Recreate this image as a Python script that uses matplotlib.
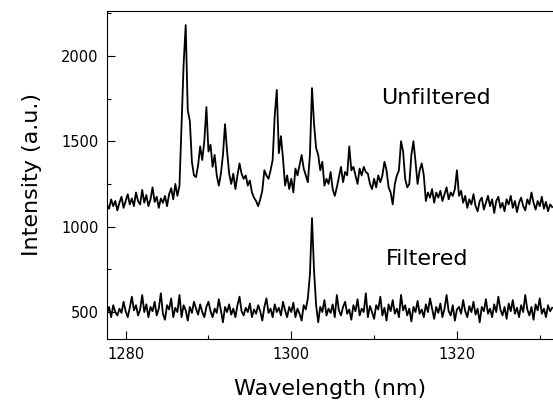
import matplotlib
matplotlib.use('Agg')
import matplotlib.pyplot as plt
import numpy as np
from matplotlib.ticker import MultipleLocator

# spectrum sampled every 0.25 nm starting at 1277.75 nm
start_nm = 1277.75
step_nm = 0.25

unfiltered = [
    1130, 1105, 1160, 1120, 1150, 1095, 1140, 1175, 1110, 1150,
    1190, 1130, 1165, 1120, 1200, 1150, 1130, 1215, 1140, 1185,
    1120, 1160, 1230, 1145, 1175, 1110, 1165, 1140, 1180, 1120,
    1190, 1225, 1160, 1250, 1180, 1240,
    1600, 1950, 2180, 1680,
    1620, 1380, 1300, 1290, 1360, 1470, 1390, 1500, 1700, 1440,
    1480, 1350, 1420, 1300, 1240, 1310, 1420, 1600, 1440, 1310,
    1250, 1310, 1220, 1300, 1370, 1310, 1280, 1300, 1240, 1270,
    1200, 1170, 1150, 1120, 1160, 1210, 1330, 1300, 1280, 1330,
    1390, 1650, 1800, 1430, 1530, 1400, 1240, 1300, 1220, 1280,
    1200, 1340, 1300, 1360, 1420, 1340, 1300, 1260, 1420, 1811,
    1600, 1460, 1420, 1330, 1380, 1240, 1280, 1250, 1320, 1220,
    1180, 1230, 1290, 1350, 1260, 1320, 1300, 1470, 1330, 1350,
    1300, 1250, 1340, 1300, 1350, 1320, 1310, 1250, 1220, 1280,
    1230, 1300, 1260, 1300, 1380, 1330, 1230, 1200, 1130, 1250,
    1300, 1330, 1500, 1440, 1280, 1230, 1250, 1420, 1500, 1380,
    1250, 1330, 1370, 1300, 1150, 1200, 1170, 1220, 1140, 1200,
    1170, 1210, 1150, 1190, 1230, 1160, 1200, 1180, 1220, 1330,
    1180, 1210, 1140, 1180, 1110, 1160,
    1130, 1190, 1120, 1090, 1150, 1170, 1100, 1140, 1180, 1120,
    1160, 1080, 1150, 1175, 1110, 1140, 1090, 1160, 1130, 1180,
    1110, 1150, 1085, 1140, 1170, 1120, 1095, 1160, 1130, 1200,
    1140, 1100, 1150, 1120, 1175, 1105, 1145, 1090, 1130, 1115,
]

filtered = [
    490, 530, 470, 540, 500, 480, 520, 495, 560, 505,
    470, 525, 590, 510, 540, 480, 515, 600, 500, 545,
    470, 530, 505, 560, 480, 520, 610, 490, 455, 540,
    515, 580, 470, 525, 500, 600, 470, 540, 510, 450,
    530, 495, 560, 520, 485, 545, 500, 470, 530, 560,
    505, 470, 520, 495, 575, 510, 440, 530, 500, 545,
    485, 520, 470, 540, 590, 505, 480, 525, 500, 550,
    470, 515, 490, 540, 505, 450, 530, 580, 495, 520,
    470, 545, 500, 525, 480, 560, 510, 470, 530, 500,
    555, 470, 520, 490, 450, 540, 515, 580, 720, 1050,
    740, 540, 440, 530, 500, 570, 480, 520, 495, 545,
    470, 600, 510, 480, 530, 560, 490, 515, 455, 540,
    505, 575, 480, 520, 500, 610, 470, 535, 500, 460,
    540, 515, 590, 480, 525, 450, 545, 505, 570, 490,
    520, 470, 600, 510, 540, 480, 520, 445, 530, 500,
    565, 490, 515, 470, 545, 500, 580, 520, 460, 530,
    495, 550, 470, 520, 600, 505, 480, 540, 450, 515,
    530, 490, 570, 505, 470, 535, 500, 560, 485, 520,
    440, 530, 505, 575, 490, 520, 470, 545, 500, 590,
    515, 480, 530, 460, 550, 505, 570, 490, 525, 470,
    540, 500, 600, 515, 480, 530, 455, 545, 510, 580,
    490, 520, 470, 540, 505, 525,
]

labels = ['Unfiltered', 'Filtered']
label_pos = [(1310.9, 1719), (1311.45, 775)]


def main():
    plt.rcParams['font.family'] = 'DejaVu Sans'
    wl = start_nm + step_nm * np.arange(len(unfiltered))

    fig = plt.figure(figsize=(5.53, 4.07), dpi=100)
    ax = fig.add_axes([0.1935, 0.167, 0.8065, 0.807])

    ax.plot(wl, unfiltered, color='black', lw=1.3)
    ax.plot(wl, filtered, color='black', lw=1.3)

    for txt, (x, y) in zip(labels, label_pos):
        ax.text(x, y, txt, fontsize=16, ha='left', va='baseline')

    ax.set_xlim(1277.75, 1331.6)
    ax.set_ylim(342, 2265)
    ax.xaxis.set_major_locator(MultipleLocator(20))
    ax.xaxis.set_minor_locator(MultipleLocator(10))
    ax.yaxis.set_major_locator(MultipleLocator(500))
    ax.yaxis.set_minor_locator(MultipleLocator(250))
    ax.tick_params(which='both', direction='in', labelsize=10.5, width=0.8)
    ax.tick_params(which='major', length=5.5, pad=6)
    ax.tick_params(which='minor', length=3)
    ax.spines['right'].set_visible(False)
    for s in ['left', 'bottom', 'top']:
        ax.spines[s].set_linewidth(0.8)

    ax.set_xlabel('Wavelength (nm)', fontsize=16, labelpad=12)
    ax.set_ylabel('Intensity (a.u.)', fontsize=16, labelpad=14)

    plt.savefig('out.png', dpi=100)


if __name__ == "__main__":
    main()
